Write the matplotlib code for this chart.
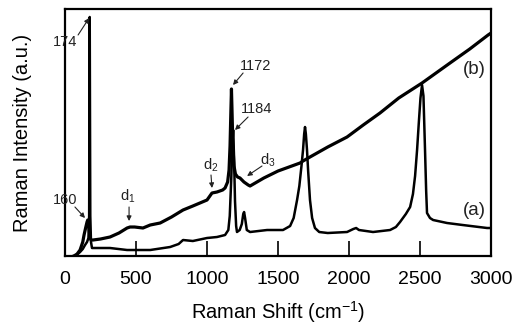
import matplotlib
matplotlib.use("Agg")
import matplotlib.pyplot as plt

plt.rcParams['font.family'] = ['Liberation Sans', 'DejaVu Sans']
plt.rcParams['mathtext.fontset'] = 'custom'
plt.rcParams['mathtext.rm'] = 'Liberation Sans'
plt.rcParams['mathtext.default'] = 'regular'

# Spectrum (a)
a_x = [60, 70, 90, 106, 125, 141, 155, 165, 170, 174, 178, 183, 190, 230, 317, 437, 600, 740, 800,
       831, 900, 1000, 1070, 1127, 1150, 1160, 1170, 1178, 1184, 1190, 1197, 1205, 1211, 1230, 1245,
       1255, 1261, 1268, 1280, 1303, 1423, 1535, 1585, 1610, 1634, 1650, 1665, 1676, 1684, 1690, 1696,
       1704, 1712, 1725, 1740, 1760, 1790, 1850, 1986, 2030, 2050, 2070, 2169, 2289, 2330, 2359, 2400,
       2430, 2450, 2465, 2479, 2492, 2503, 2514, 2524, 2535, 2543, 2549, 2570, 2592, 2690, 2800, 2972, 3000]
a_y = [0, 0, 2, 4, 7, 11, 14, 18, 40, 239, 40, 14, 8, 8, 8, 6, 6, 9, 12,
       16, 15, 18, 19, 21, 26, 40, 75, 110, 126, 100, 55, 30, 24, 26, 32,
       42, 44, 38, 26, 24, 26, 26, 30, 38, 56, 70, 90, 106, 122, 129, 122,
       106, 85, 56, 38, 28, 24, 23, 24, 27, 28, 26, 24, 26, 29, 34, 42,
       49, 62, 80, 106, 135, 158, 171, 160, 106, 65, 43, 38, 36, 33, 31, 28, 28]

# Spectrum (b)
b_x = [63, 85, 106, 125, 134, 145, 155, 160, 165, 170, 177, 183, 197, 250, 317, 380, 437, 458, 490,
       549, 600, 670, 750, 831, 900, 1000, 1020, 1035, 1070, 1110, 1127, 1145, 1155, 1162, 1168, 1172,
       1176, 1182, 1190, 1200, 1215, 1232, 1260, 1290, 1303, 1400, 1500, 1655, 1676, 1725, 1850, 1986,
       2100, 2218, 2350, 2514, 2711, 2850, 2979, 3000]
b_y = [0, 2, 6, 14, 21, 28, 34, 36, 33, 26, 18, 16, 16, 17, 19, 23, 28, 29, 29,
       28, 31, 33, 39, 46, 50, 56, 60, 63, 64, 66, 68, 74, 86, 110, 145, 167,
       145, 110, 90, 82, 79, 78, 74, 71, 70, 78, 85, 93, 95, 99, 109, 119,
       131, 143, 158, 173, 193, 207, 221, 223]

x_ticks = [0, 500, 1000, 1500, 2000, 2500, 3000]

# annotations: (text, text position, arrow tail, arrow tip)
labels = [
    ("174", (0, 214), (92, 221), (170, 238)),
    ("160", (0, 56), (70, 49), (141, 38)),
    ("d$_1$", (444, 60), (451, 49), (451, 35)),
    ("d$_2$", (1028, 91), (1028, 81), (1035, 68)),
    ("1172", (1345, 190), (1254, 183), (1183, 171)),
    ("1184", (1352, 147), (1289, 139), (1197, 126)),
    ("d$_3$", (1430, 96), (1387, 90), (1282, 80)),
]

fig = plt.figure(figsize=(5.18, 3.26), dpi=100)
ax = fig.add_axes([0.1255, 0.2147, 0.8225, 0.7577])

ax.plot(a_x, a_y, color='black', lw=1.8)
ax.plot(b_x, b_y, color='black', lw=2.3)

ax.set_xlim(0, 3000)
ax.set_ylim(0, 247)
ax.set_xticks(x_ticks)
ax.set_yticks([])
ax.tick_params(axis='x', direction='in', length=11, width=1.2, labelsize=14, pad=11)
for s in ax.spines.values():
    s.set_linewidth(1.6)

ax.set_xlabel("Raman Shift (cm$^{-1}$)", fontsize=14.5, labelpad=8)
ax.set_ylabel("Raman Intensity (a.u.)", fontsize=14.5, labelpad=24)

for txt, tp, tail, tip in labels:
    ax.text(tp[0], tp[1], txt, fontsize=10.5, ha='center', va='center', color='#222222')
    ax.annotate("", xy=tip, xytext=tail,
                arrowprops=dict(arrowstyle='-|>', lw=0.8, color='#222222',
                                mutation_scale=7, shrinkA=0, shrinkB=0))

ax.text(2880, 46, "(a)", fontsize=13.5, ha='center', va='center', color='#222222')
ax.text(2880, 187, "(b)", fontsize=13.5, ha='center', va='center', color='#222222')

fig.savefig("out.png", dpi=100)
